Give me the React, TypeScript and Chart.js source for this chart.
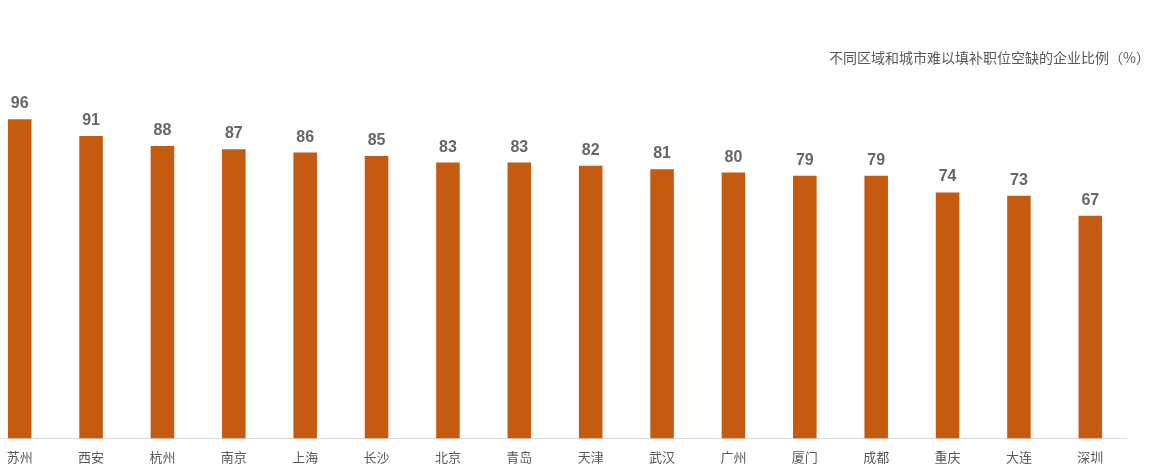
import React, { useEffect, useRef } from "react";
import { Chart, registerables } from "chart.js";

Chart.register(...registerables);

const categories = ["苏州", "西安", "杭州", "南京", "上海", "长沙", "北京", "青岛", "天津", "武汉", "广州", "厦门", "成都", "重庆", "大连", "深圳"];
const values = [96, 91, 88, 87, 86, 85, 83, 83, 82, 81, 80, 79, 79, 74, 73, 67];
const titleText = "不同区域和城市难以填补职位空缺的企业比例（%）";

const CANVAS_W = 1169;
const CANVAS_H = 476;

export default function App() {
  const ref = useRef<HTMLCanvasElement | null>(null);

  useEffect(() => {
    if (!ref.current) return;
    const labelPlugin = {
      id: "labelsAndTitle",
      afterDatasetsDraw(chart: any) {
        const ctx = chart.ctx;
        const meta = chart.getDatasetMeta(0);
        ctx.save();
        ctx.font = "bold 16px Arial, 'Liberation Sans', sans-serif";
        ctx.fillStyle = "#666666";
        ctx.textAlign = "center";
        ctx.textBaseline = "alphabetic";
        meta.data.forEach((bar: any, i: number) => {
          ctx.fillText(String(values[i]), bar.x, bar.y - 11);
        });
        ctx.font = "14px 'Noto Sans CJK SC', sans-serif";
        ctx.fillStyle = "#595959";
        ctx.textAlign = "right";
        ctx.textBaseline = "middle";
        ctx.fillText(titleText, CANVAS_W - 2, 58);
        ctx.restore();
      },
    };
    const chart = new Chart(ref.current, {
      type: "bar",
      data: {
        labels: categories,
        datasets: [
          {
            data: values,
            backgroundColor: "#C55A11",
            barPercentage: 0.33,
            categoryPercentage: 1,
          },
        ],
      },
      options: {
        animation: false,
        responsive: false,
        devicePixelRatio: 1,
        layout: { padding: { left: 1, right: 26, top: 106, bottom: 0 } },
        plugins: {
          legend: { display: false },
          title: { display: false },
          tooltip: { enabled: false },
        },
        scales: {
          x: {
            grid: { display: false },
            border: { display: true, color: "#d9d9d9", width: 1 },
            ticks: {
              color: "#595959",
              font: { size: 13, family: "'Noto Sans CJK SC', sans-serif" },
              padding: 3,
              maxRotation: 0,
              autoSkip: false,
            },
            afterFit(scale: any) {
              scale.height = 37.5;
            },
          },
          y: {
            display: false,
            min: 0,
            max: 100,
          },
        },
      },
      plugins: [labelPlugin],
    });
    return () => chart.destroy();
  }, []);

  return (
    <div style={{ position: "fixed", left: -17, top: 0, width: CANVAS_W, height: CANVAS_H, background: "#ffffff" }}>
      <canvas ref={ref} width={CANVAS_W} height={CANVAS_H} style={{ width: CANVAS_W, height: CANVAS_H, display: "block" }} />
    </div>
  );
}
